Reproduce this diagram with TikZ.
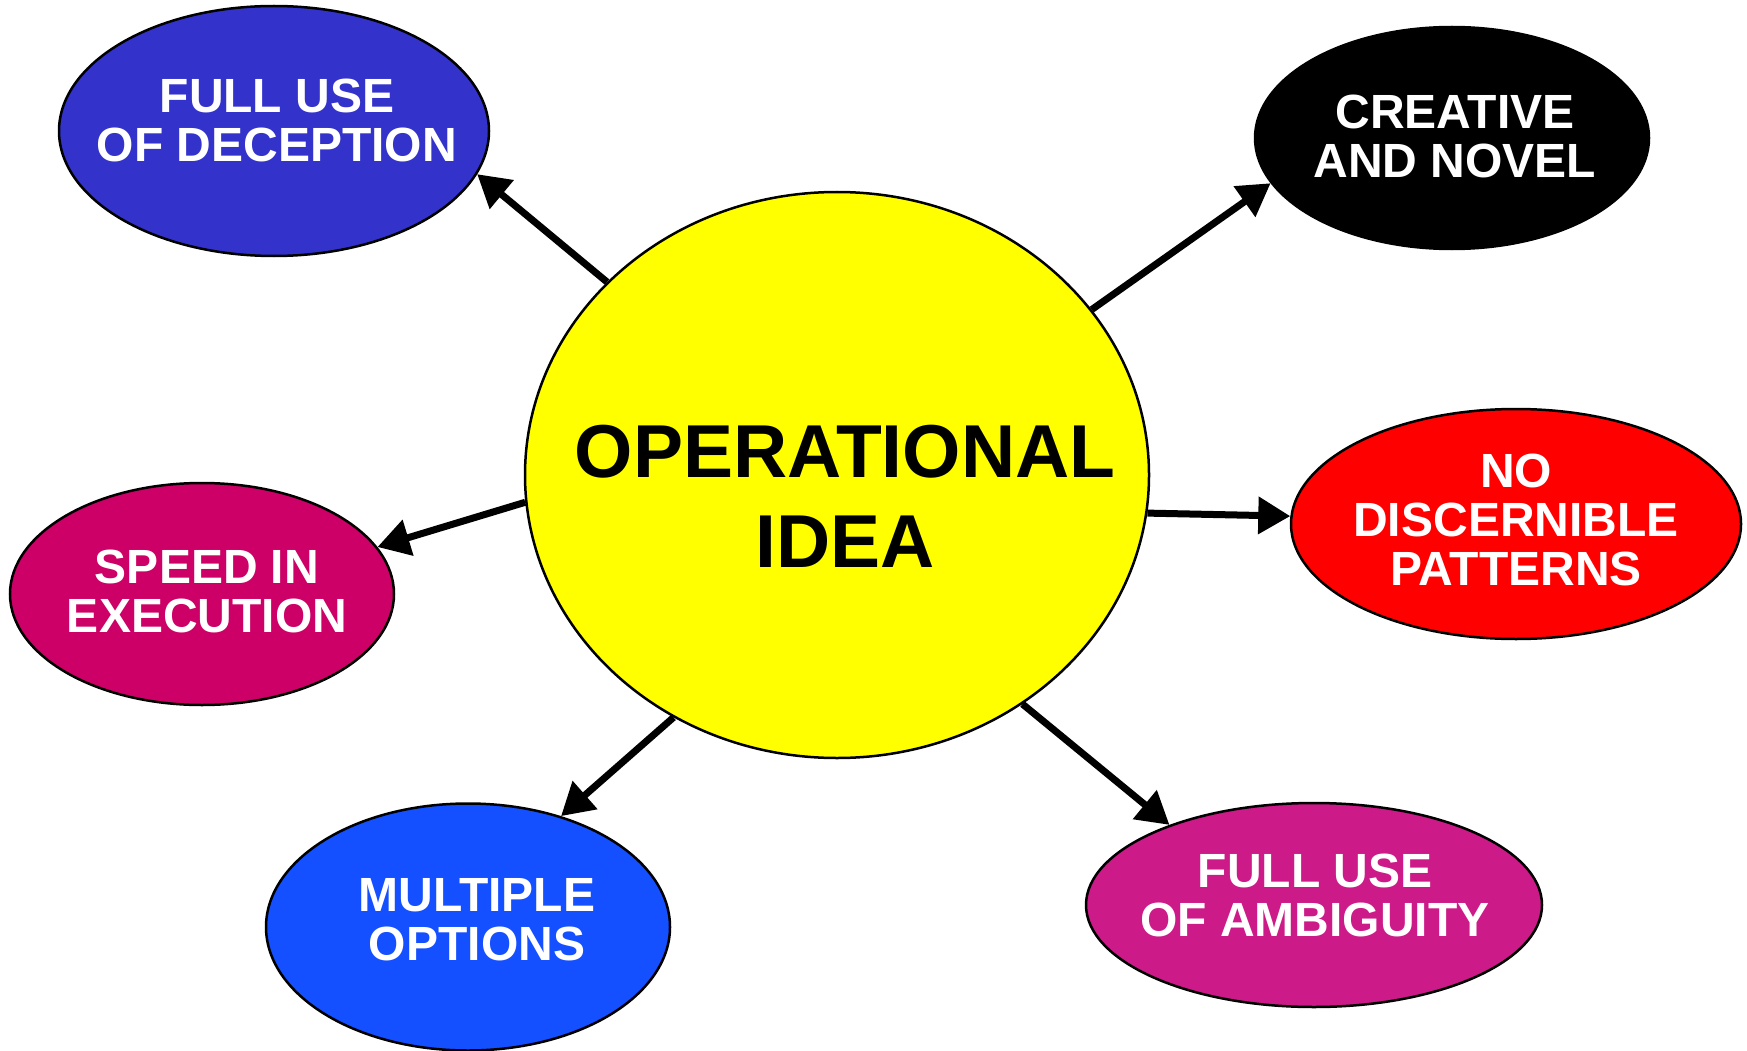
\documentclass[tikz,border=0pt]{standalone}
\usepackage{fontspec}
\setmainfont{Liberation Sans}
\usetikzlibrary{shapes.geometric,arrows.meta}

\definecolor{ideayellow}{RGB}{255,255,0}
\definecolor{deceptblue}{HTML}{3333CC}
\definecolor{speedred}{HTML}{CC0066}
\definecolor{optblue}{HTML}{1450FF}
\definecolor{ambigpink}{HTML}{CC1A88}

\tikzset{
  bubble/.style={ellipse,draw,line width=2.5pt,inner sep=0pt},
  bubbletext/.style={align=center,inner sep=0pt,text=white,
    font=\fontsize{48}{49}\selectfont\bfseries},
  link/.style={-{Triangle[length=32pt,width=36pt]},line width=7pt}
}

\begin{document}
\begin{tikzpicture}[x=1pt,y=-1pt]
\useasboundingbox (0,0) rectangle (1747,1051);
% the idea in the middle
\node[bubble,fill=ideayellow,minimum width=624pt,minimum height=566pt] (op) at (837,475) {};
\node[bubbletext,text=black,font=\fontsize{75}{90}\selectfont\bfseries] (op-txt) at (845,496) {OPERATIONAL\\IDEA};
% the six bubbles round it
\node[bubble,fill=deceptblue,minimum width=430pt,minimum height=250pt] (decept) at (274,131) {};
\node[bubbletext] (decept-txt) at (277,120) {FULL USE\\OF DECEPTION};
\node[bubble,fill=black,minimum width=394pt,minimum height=222pt] (novel) at (1452,138) {};
\node[bubbletext] (novel-txt) at (1455,136) {CREATIVE\\AND NOVEL};
\node[bubble,fill=red,minimum width=450pt,minimum height=230pt] (pattern) at (1516,524) {};
\node[bubbletext] (pattern-txt) at (1516,520) {NO\\DISCERNIBLE\\PATTERNS};
\node[bubble,fill=speedred,minimum width=384pt,minimum height=222pt] (speed) at (202,594) {};
\node[bubbletext] (speed-txt) at (207,591) {SPEED IN\\EXECUTION};
\node[bubble,fill=optblue,minimum width=404pt,minimum height=247pt] (option) at (468,927) {};
\node[bubbletext] (option-txt) at (477,920) {MULTIPLE\\OPTIONS};
\node[bubble,fill=ambigpink,minimum width=456pt,minimum height=204pt] (ambig) at (1314,905) {};
\node[bubbletext] (ambig-txt) at (1315,895) {FULL USE\\OF AMBIGUITY};
% arrows
\draw[link] (op.140.7) -- (decept.-12.7);
\draw[link] (op.33.8) -- (novel.-166.6);
\draw[link] (op.-7.1) -- (pattern.178.7);
\draw[link] (op.185.5) -- (speed.15.3);
\draw[link] (op.-124.2) -- (option.50.7);
\draw[link] (op.-51.8) -- (ambig.151.8);
\end{tikzpicture}
\end{document}
